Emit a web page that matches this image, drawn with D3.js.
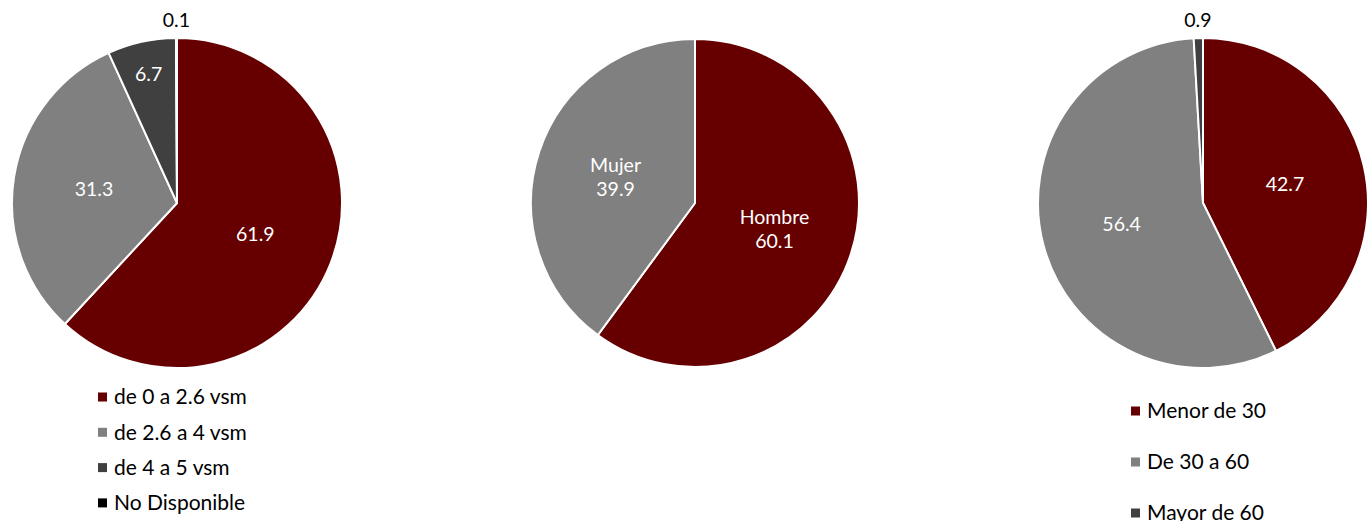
<!DOCTYPE html>
<html>
<head>
<meta charset="utf-8">
<script src="https://cdn.jsdelivr.net/npm/d3@7"></script>
<style>
  body { margin: 0; background: #fff; }
  svg { display: block; font-family: Lato, "Liberation Sans", sans-serif; }
</style>
</head>
<body>
<svg id="chart" width="1369" height="521"></svg>
<script>
// data
const ingresoCats   = ["de 0 a 2.6 vsm", "de 2.6 a 4 vsm", "de 4 a 5 vsm", "No Disponible"];
const ingresoValues = [61.9, 31.3, 6.7, 0.1];

const sexoCats   = ["Hombre", "Mujer"];
const sexoValues = [60.1, 39.9];

const edadCats   = ["Menor de 30", "De 30 a 60", "Mayor de 60"];
const edadValues = [42.7, 56.4, 0.9];

const palette = ["#660000", "#808080", "#404040", "#000000"];

const svg = d3.select("#chart");
const color = d3.scaleOrdinal().domain(d3.range(4)).range(palette);

const pie = d3.pie().sort(null).value(d => d.v);

function drawPie(cats, values, cx, cy, r, opts) {
  const g = svg.append("g").attr("transform", `translate(${cx},${cy})`);
  const data = cats.map((c, i) => ({ c, v: values[i], i }));
  const arcs = pie(data);
  const arc = d3.arc().innerRadius(0).outerRadius(r);

  g.selectAll("path")
    .data(arcs)
    .join("path")
      .attr("d", arc)
      .attr("fill", d => color(d.data.i))
      .attr("stroke", "#fff")
      .attr("stroke-width", 2);

  // labels: tiny slices outside, small ones near the rim, rest mid-radius
  arcs.forEach(d => {
    const mid = (d.startAngle + d.endAngle) / 2;
    const share = d.data.v / d3.sum(values);
    let rr, fill;
    if (share < 0.02)      { rr = r + 18; fill = "#000"; }
    else if (share < 0.1)  { rr = r * 0.8; fill = "#fff"; }
    else                   { rr = r * 0.51; fill = "#fff"; }
    const x = rr * Math.sin(mid), y = -rr * Math.cos(mid);
    const t = g.append("text")
      .attr("x", x)
      .attr("y", y)
      .attr("text-anchor", "middle")
      .attr("fill", fill)
      .style("font-size", "19.5px");
    if (opts.catLabels) {
      t.append("tspan").attr("x", x).attr("dy", "-0.25em").text(d.data.c);
      t.append("tspan").attr("x", x).attr("dy", "1.23em").text(d3.format(".1f")(d.data.v));
    } else {
      t.attr("dy", "0.35em").text(d3.format(".1f")(d.data.v));
    }
  });

  if (opts.legend) {
    const lg = svg.append("g")
      .attr("transform", `translate(${opts.legend.x},${opts.legend.y})`);
    cats.forEach((c, i) => {
      const row = lg.append("g").attr("transform", `translate(0,${i * opts.legend.step})`);
      row.append("rect")
        .attr("x", 0).attr("y", -4.5)
        .attr("width", 9).attr("height", 9)
        .attr("fill", color(i));
      row.append("text")
        .attr("x", 16).attr("y", 0)
        .attr("dy", "0.35em")
        .style("font-size", "21px")
        .attr("fill", "#000")
        .text(c);
    });
  }
}

drawPie(ingresoCats, ingresoValues, 177, 203, 165, { legend: { x: 98, y: 397, step: 35.3 } });
drawPie(sexoCats, sexoValues, 695, 203, 164, { catLabels: true });
drawPie(edadCats, edadValues, 1203, 203, 165, { legend: { x: 1131, y: 411, step: 51 } });
</script>
</body>
</html>
